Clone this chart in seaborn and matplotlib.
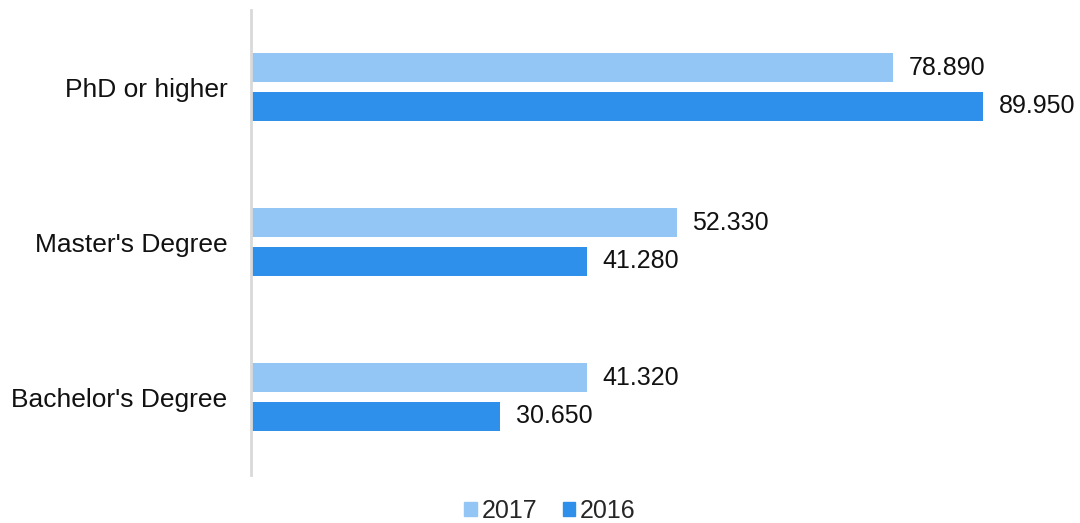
import matplotlib
matplotlib.use("Agg")
import matplotlib.pyplot as plt
import seaborn as sns
import pandas as pd

degrees = ["PhD or higher", "Master's Degree", "Bachelor's Degree"]
years = ["2017", "2016"]
values_2017 = [78.89, 52.33, 41.32]
values_2016 = [89.95, 41.28, 30.65]
colors = ["#93C6F5", "#2E90EB"]

df = pd.DataFrame({
    "degree": degrees * 2,
    "year": ["2017"] * 3 + ["2016"] * 3,
    "value": values_2017 + values_2016,
})

sns.set_style("white")
plt.rcParams["font.family"] = ["Liberation Sans", "DejaVu Sans"]

fig = plt.figure(figsize=(10.8, 5.23), dpi=100)
ax = fig.add_axes([251 / 1080, 48.5 / 523, (1065 - 251) / 1080, 465 / 523])

sns.barplot(data=df, y="degree", x="value", hue="year", order=degrees,
            hue_order=years, palette=colors, saturation=1, orient="h",
            width=0.5, gap=0.26, ax=ax, legend=False, edgecolor="none")

for cont in ax.containers:
    ax.bar_label(cont, fmt="%.3f", padding=11, fontsize=18, color="#111111")

ax.set_xlim(0, 100)
ax.set_ylim(2.5, -0.5)
ax.set_xlabel("")
ax.set_ylabel("")
ax.set_xticks([])
ax.tick_params(axis="y", labelsize=19, length=0, pad=17, colors="#111111")
for side in ["top", "right", "bottom"]:
    ax.spines[side].set_visible(False)
ax.spines["left"].set_color("#D9D9D9")
ax.spines["left"].set_linewidth(2)

handles = [plt.Rectangle((0, 0), 1, 1, color=c) for c in colors]
fig.legend(handles, years, loc="center", bbox_to_anchor=(550 / 1080, 1 - 511 / 523),
           ncol=2, frameon=False, fontsize=18, handlelength=0.5, handleheight=0.5,
           handletextpad=0.2, columnspacing=1.0)

fig.savefig("out.png", dpi=100)
